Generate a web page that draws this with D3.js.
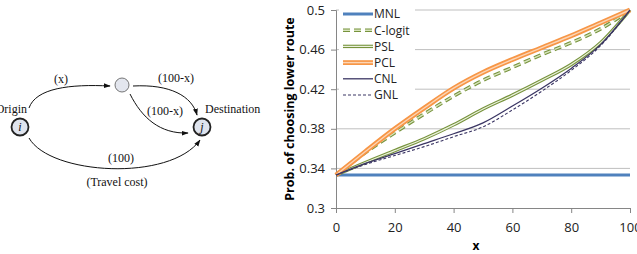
<!DOCTYPE html>
<html>
<head>
<meta charset="utf-8">
<script src="https://cdn.jsdelivr.net/npm/d3@7"></script>
<style>
  body { margin: 0; background: #fff; }
  svg { display: block; }
  .tick text { font-family: "Open Sans", sans-serif; font-size: 13px; fill: #222; }
  .net text { font-family: "Liberation Serif", serif; font-size: 12px; fill: #111; }
</style>
</head>
<body>
<svg id="viz" width="637" height="254"></svg>
<script>
// x values (route cost of upper link)
var xs = [0, 10, 20, 30, 40, 50, 60, 70, 80, 90, 100];
// probability of choosing the lower route, per model
var mnl    = [0.3333, 0.3333, 0.3333, 0.3333, 0.3333, 0.3333, 0.3333, 0.3333, 0.3333, 0.3333, 0.3333];
var clogit = [0.3333, 0.356, 0.376, 0.395, 0.413, 0.429, 0.442, 0.455, 0.467, 0.481, 0.5];
var psl    = [0.3333, 0.346, 0.358, 0.370, 0.384, 0.400, 0.414, 0.429, 0.445, 0.467, 0.5];
var pcl    = [0.3333, 0.357, 0.380, 0.401, 0.421, 0.437, 0.450, 0.462, 0.474, 0.487, 0.5];
var cnl    = [0.3333, 0.345, 0.355, 0.365, 0.375, 0.386, 0.403, 0.421, 0.441, 0.465, 0.5];
var gnl    = [0.3333, 0.344, 0.353, 0.362, 0.372, 0.382, 0.399, 0.418, 0.439, 0.464, 0.5];
var yTicks = [0.3, 0.34, 0.38, 0.42, 0.46, 0.5];
var xTicks = [0, 20, 40, 60, 80, 100];
var seriesNames = ["MNL", "C-logit", "PSL", "PCL", "CNL", "GNL"];

var svg = d3.select("#viz");

// ---------- network diagram on the left ----------
var net = svg.append("g").attr("class", "net");
var defs = svg.append("defs");
defs.append("marker")
    .attr("id", "arrow")
    .attr("viewBox", "0 0 10 10")
    .attr("refX", 9).attr("refY", 5)
    .attr("markerWidth", 7).attr("markerHeight", 7)
    .attr("orient", "auto")
    .append("path").attr("d", "M0,1.5L10,5L0,8.5z").attr("fill", "#111");

var links = [
    "M29,108 C36,88 70,84 110,86",
    "M133,86 C170,84 192,96 197,115",
    "M130,94 C142,118 160,134 188,133",
    "M29,138 C50,175 170,182 200,140"
];
net.selectAll("path.link").data(links).enter().append("path")
    .attr("class", "link")
    .attr("d", d => d)
    .attr("fill", "none")
    .attr("stroke", "#111")
    .attr("stroke-width", 1)
    .attr("marker-end", "url(#arrow)");

net.append("circle").attr("cx", 122).attr("cy", 85).attr("r", 7)
    .attr("fill", "#e3e6ee").attr("stroke", "#555").attr("stroke-width", 0.8);
[[20, 127, "i"], [202, 127, "j"]].forEach(function(n) {
    net.append("circle").attr("cx", n[0]).attr("cy", n[1]).attr("r", 8.5)
        .attr("fill", "#dfe4ee").attr("stroke", "#222").attr("stroke-width", 1.8);
    net.append("text").attr("x", n[0]).attr("y", n[1] + 4)
        .attr("text-anchor", "middle").style("font-style", "italic").text(n[2]);
});

var labels = [
    [27, 113, "end", "Origin"],
    [205, 113, "start", "Destination"],
    [61, 83, "middle", "(x)"],
    [176, 82, "middle", "(100-x)"],
    [165, 115, "middle", "(100-x)"],
    [121, 162, "middle", "(100)"],
    [117, 186, "middle", "(Travel cost)"]
];
net.selectAll("text.lbl").data(labels).enter().append("text")
    .attr("class", "lbl")
    .attr("x", d => d[0]).attr("y", d => d[1])
    .attr("text-anchor", d => d[2])
    .text(d => d[3]);

// ---------- line chart ----------
var x = d3.scaleLinear().domain([0, 100]).range([336, 630]);
var y = d3.scaleLinear().domain([0.3, 0.5]).range([208, 10]);

// gridlines
svg.append("g").selectAll("line").data(yTicks.slice(1)).enter().append("line")
    .attr("x1", x(0)).attr("x2", x(100))
    .attr("y1", d => y(d)).attr("y2", d => y(d))
    .attr("stroke", "#bfbfbf").attr("stroke-width", 1);

var yAxis = svg.append("g")
    .attr("transform", "translate(" + x(0) + ",0)")
    .call(d3.axisLeft(y).tickValues(yTicks).tickFormat(d3.format("")).tickSize(5).tickPadding(6));
var xAxis = svg.append("g")
    .attr("transform", "translate(0," + y(0.3) + ")")
    .call(d3.axisBottom(x).tickValues(xTicks).tickSize(5).tickPadding(8));
[yAxis, xAxis].forEach(function(a) {
    a.select(".domain").attr("stroke", "#868686");
    a.selectAll(".tick line").attr("stroke", "#868686");
});
xAxis.selectAll(".tick text").attr("dy", "0.85em");

svg.append("text")
    .attr("x", 476).attr("y", 250)
    .attr("text-anchor", "middle")
    .style("font-family", "Open Sans, sans-serif").style("font-size", "12px").style("font-weight", "bold")
    .text("x");
svg.append("text")
    .attr("transform", "translate(294,109) rotate(-90)")
    .attr("text-anchor", "middle")
    .style("font-family", "Open Sans, sans-serif").style("font-size", "12.5px").style("font-weight", "bold")
    .text("Prob. of choosing lower route");

var line = d3.line()
    .x((d, i) => x(xs[i]))
    .y(d => y(d))
    .curve(d3.curveMonotoneX);

// each series drawn as one or two stroke layers
var styles = [
    [{c: "#4f81bd", w: 3}],
    [{c: "#77933c", w: 3.6, dash: "7,4"}, {c: "#d7e4bd", w: 1.4, dash: "7,4"}],
    [{c: "#77933c", w: 3.4}, {c: "#ebf1de", w: 1.2}],
    [{c: "#f79646", w: 4.8}, {c: "#fcd5b5", w: 1.4}],
    [{c: "#3b3664", w: 1.3}],
    [{c: "#3b3664", w: 1.1, dash: "3,2"}]
];
var data = [mnl, clogit, psl, pcl, cnl, gnl];

var plot = svg.append("g");
data.forEach(function(ds, i) {
    styles[i].forEach(function(s) {
        plot.append("path")
            .datum(ds)
            .attr("d", line)
            .attr("fill", "none")
            .attr("stroke", s.c)
            .attr("stroke-width", s.w)
            .attr("stroke-dasharray", s.dash || null);
    });
});

// legend
var legend = svg.append("g");
legend.append("rect")
    .attr("x", 339).attr("y", 5).attr("width", 76).attr("height", 98)
    .attr("fill", "#fff");
seriesNames.forEach(function(name, i) {
    var ly = 14 + i * 16.2;
    styles[i].forEach(function(s) {
        legend.append("line")
            .attr("x1", 343).attr("x2", 373)
            .attr("y1", ly).attr("y2", ly)
            .attr("stroke", s.c)
            .attr("stroke-width", s.w)
            .attr("stroke-dasharray", s.dash || null);
    });
    legend.append("text")
        .attr("x", 374).attr("y", ly + 4.3)
        .style("font-family", "Open Sans, sans-serif").style("font-size", "12px").style("fill", "#222")
        .text(name);
});
</script>
</body>
</html>
